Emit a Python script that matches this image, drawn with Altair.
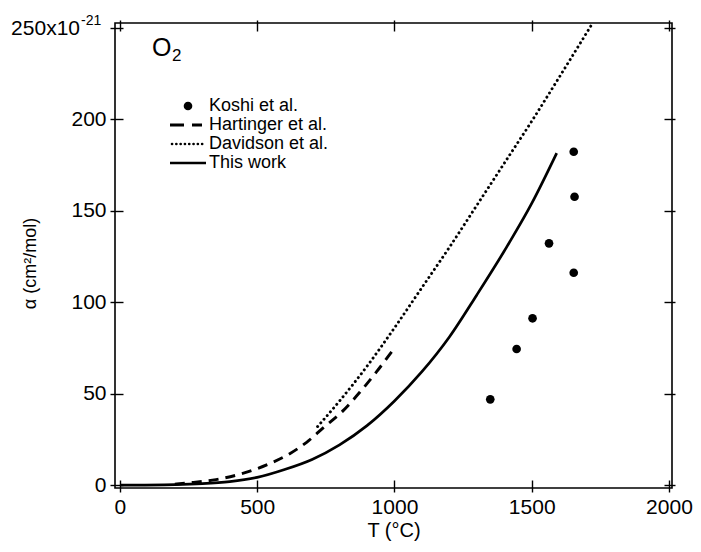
import altair as alt
import pandas as pd

# ---------------- data ----------------
koshi_T = [1349, 1445, 1503, 1563, 1653, 1656, 1653]
koshi_alpha = [46.9, 74.4, 91.2, 132.2, 116.1, 157.7, 182.3]

hart_T = [200, 250, 350, 450, 550, 620, 680, 745, 815, 875, 935, 1000]
hart_alpha = [0.5, 1.2, 3.0, 6.5, 12.0, 17.3, 23.4, 31.9, 41.0, 51.0, 62.0, 75.0]

dav_T = [720, 800, 900, 1000, 1100, 1200, 1300, 1400, 1500, 1600, 1715]
dav_alpha = [32, 46, 65, 86, 108, 130, 153, 176, 199, 223, 251]

work_T = [0, 200, 300, 400, 500, 600, 700, 800, 900, 1000, 1100, 1200, 1300, 1400, 1500, 1591]
work_alpha = [0, 0.3, 0.8, 1.9, 4.2, 8.5, 14.0, 22.0, 32.5, 46.0, 62.0, 81.0, 104.0, 128.0, 154.0, 181.5]

legend_labels = ["Koshi et al.", "Hartinger et al.", "Davidson et al.", "This work"]
x_ticks = [0, 500, 1000, 1500, 2000]
y_ticks = [0, 50, 100, 150, 200, 250]
y_top_label = ["250x10", "-21"]

FONT = "Liberation Sans"

koshi_df = pd.DataFrame({"T": koshi_T, "alpha": koshi_alpha})
hart_df = pd.DataFrame({"T": hart_T, "alpha": hart_alpha})
dav_df = pd.DataFrame({"T": dav_T, "alpha": dav_alpha})
work_df = pd.DataFrame({"T": work_T, "alpha": work_alpha})

W, H = 557, 465
xscale = alt.Scale(domain=[-18, 2011], nice=False, zero=False)
yscale = alt.Scale(domain=[-1.6, 252.7], nice=False, zero=False)

common_axis = dict(grid=False, domain=False, offset=-8, tickColor="black", tickWidth=1.4,
                   labelColor="black", titleColor="black", labelFont=FONT, titleFont=FONT,
                   titleFontWeight="normal")

x_axis = alt.Axis(values=x_ticks, title="T (°C)", format="d", tickSize=12, labelFontSize=21,
                  labelPadding=4, titleFontSize=20, titlePadding=3, **common_axis)
y_axis = alt.Axis(values=y_ticks, title="α  (cm²/mol)", format="d", tickSize=13, labelFontSize=21,
                  labelPadding=4, titleFontSize=18, titleX=-93, titleY=240, titleBaseline="middle",
                  labelExpr="datum.value == 250 ? '' : datum.label", **common_axis)

X = alt.X("T:Q", scale=xscale, axis=x_axis)
Y = alt.Y("alpha:Q", scale=yscale, axis=y_axis)

work = alt.Chart(work_df).mark_line(color="black", strokeWidth=2.7, interpolate="monotone").encode(x=X, y=Y)
hart = alt.Chart(hart_df).mark_line(color="black", strokeWidth=2.9, strokeDash=[10, 7],
                                    interpolate="monotone").encode(x=X, y=Y)
dav = alt.Chart(dav_df).mark_line(color="black", strokeWidth=2.9, strokeDash=[0.1, 4.8], strokeCap="round",
                                  interpolate="monotone").encode(x=X, y=Y)
pts = alt.Chart(koshi_df).mark_circle(color="black", opacity=1, size=75).encode(x=X, y=Y)

# top tick label with a real superscript (layout in pixels, relative to the plot area)
top_lab = alt.Chart(pd.DataFrame({"t": [y_top_label[0]]})).mark_text(
    align="right", baseline="middle", fontSize=21, font=FONT, color="black"
).encode(x=alt.value(-35), y=alt.value(6), text="t:N")
top_sup = alt.Chart(pd.DataFrame({"t": [y_top_label[1]]})).mark_text(
    align="left", baseline="middle", fontSize=14, font=FONT, color="black"
).encode(x=alt.value(-34), y=alt.value(-2), text="t:N")

# ---------------- manual legend & label (layout in pixels) ----------------
one = pd.DataFrame({"k": [0]})
leg_top, leg_step = 83, 19
sym_x0, sym_x1, text_x = 55, 90, 94
legend_layers = []
for i, lab in enumerate(legend_labels):
    yy = leg_top + i * leg_step
    legend_layers.append(
        alt.Chart(pd.DataFrame({"label": [lab]})).mark_text(
            align="left", baseline="middle", fontSize=18, font=FONT, color="black"
        ).encode(x=alt.value(text_x), y=alt.value(yy), text="label:N")
    )
    if i == 0:
        legend_layers.append(alt.Chart(one).mark_circle(color="black", opacity=1, size=75)
                             .encode(x=alt.value(73), y=alt.value(yy)))
    elif i == 1:
        legend_layers.append(alt.Chart(one).mark_rule(color="black", strokeWidth=2.8, strokeDash=[14, 8])
                             .encode(x=alt.value(sym_x0), x2=alt.value(sym_x1 - 3), y=alt.value(yy)))
    elif i == 2:
        legend_layers.append(alt.Chart(one).mark_rule(color="black", strokeWidth=2.6, strokeDash=[0.1, 4.2],
                                                      strokeCap="round")
                             .encode(x=alt.value(sym_x0 + 2), x2=alt.value(sym_x1), y=alt.value(yy)))
    else:
        legend_layers.append(alt.Chart(one).mark_rule(color="black", strokeWidth=2.7)
                             .encode(x=alt.value(sym_x0), x2=alt.value(sym_x1 + 1), y=alt.value(yy)))

o_text = alt.Chart(pd.DataFrame({"t": ["O"]})).mark_text(
    align="left", baseline="middle", fontSize=25, font=FONT, color="black"
).encode(x=alt.value(37), y=alt.value(25), text="t:N")
o_sub = alt.Chart(pd.DataFrame({"t": ["2"]})).mark_text(
    align="left", baseline="middle", fontSize=17, font=FONT, color="black"
).encode(x=alt.value(57), y=alt.value(33), text="t:N")

main = alt.layer(work, hart, dav, pts, o_text, o_sub, top_lab, top_sup, *legend_layers)

# mirrored ticks on top and right
mirror_common = dict(grid=False, domain=False, offset=-8, tickSize=11, tickColor="black", tickWidth=1.4,
                     labels=False, title=None)
mirror = alt.Chart(koshi_df).mark_circle(opacity=0).encode(
    x=alt.X("T:Q", scale=xscale, axis=alt.Axis(orient="top", values=x_ticks, **mirror_common)),
    y=alt.Y("alpha:Q", scale=yscale, axis=alt.Axis(orient="right", values=y_ticks, **mirror_common)),
)

chart = alt.layer(main, mirror).resolve_scale(x="independent", y="independent").properties(
    width=W, height=H,
    autosize=alt.AutoSizeParams(type="none"),
    padding={"left": 107, "top": 15, "right": 21, "bottom": 54},
    background="white",
).configure_view(stroke="black", strokeWidth=1.6)

chart.save("out.html", embed_options={"renderer": "svg", "actions": False})
